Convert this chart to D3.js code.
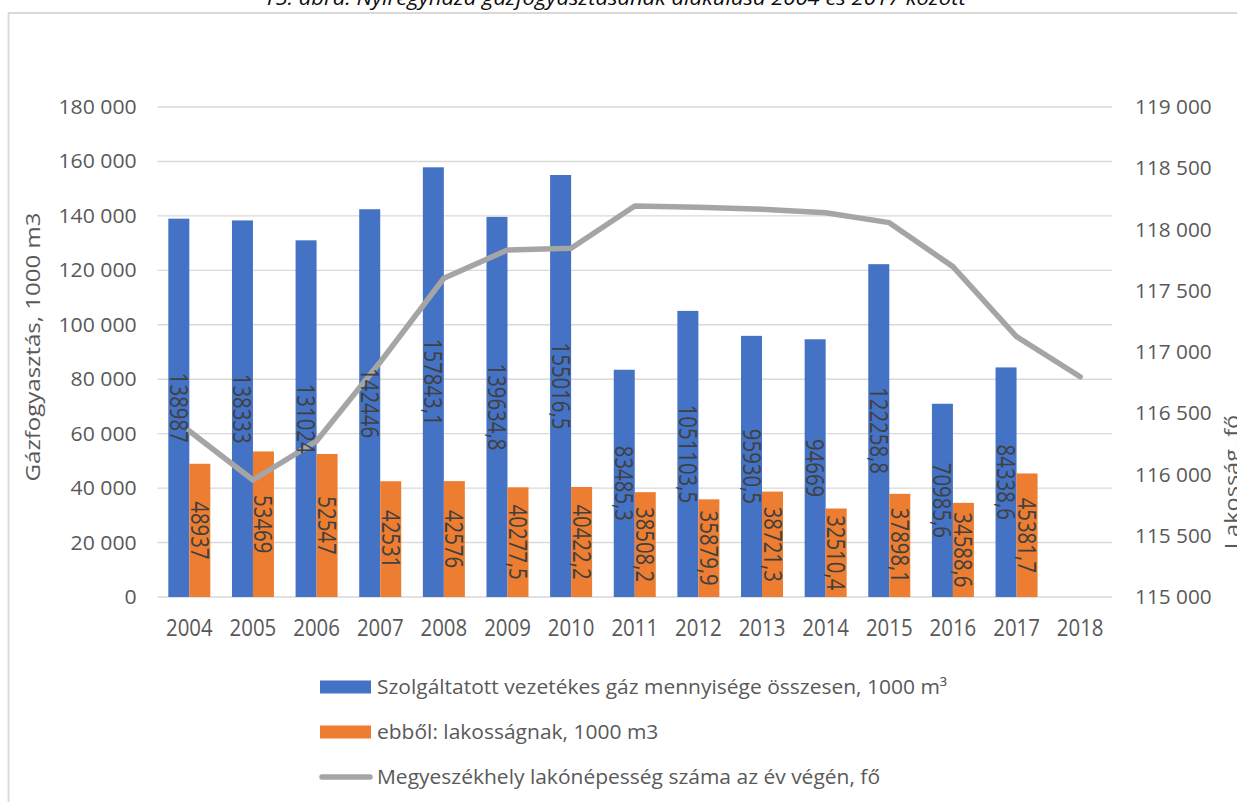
<!doctype html>
<html>
  <head>
    <meta charset="utf-8">
    <script src="https://cdn.jsdelivr.net/npm/d3@7"></script>
    <style>
      body { margin: 0; background: #fff; }
      svg { display: block; font-family: "Open Sans", sans-serif; }
      line.grid { stroke: #D9D9D9; stroke-width: 1.4; }
      text.tick { fill: #595959; }
      text.datalabel { fill: #404040; }
      path.population { fill: none; stroke: #A5A5A5; stroke-width: 5.5; stroke-linejoin: round; stroke-linecap: round; }
    </style>
  </head>
  <body>
    <svg id="chart" width="1237" height="802"></svg>
    <script>
      var years = [2004, 2005, 2006, 2007, 2008, 2009, 2010, 2011, 2012, 2013, 2014, 2015, 2016, 2017, 2018];
      // Szolgáltatott vezetékes gáz összesen, 1000 m3
      var totalGas = [138987, 138333, 131024, 142446, 157843.1, 139634.8, 155016.5, 83485.3, 105103.5, 95930.5, 94669, 122258.8, 70985.6, 84338.6, null];
      // ebből: lakosságnak, 1000 m3
      var householdGas = [48937, 53469, 52547, 42531, 42576, 40277.5, 40422.2, 38508.2, 35879.9, 38721.3, 32510.4, 37898.1, 34588.6, 45381.7, null];
      // lakónépesség az év végén, fő
      var population = [116355, 115955, 116273, 116918, 117602, 117833, 117847, 118192, 118181, 118165, 118137, 118056, 117697, 117125, 116798];
      // the source prints this one label differently from its bar
      var labelOverrides = { 2012: "1051103,5" };

      var seriesNames = [
        "Szolgáltatott vezetékes gáz mennyisége összesen, 1000 m³",
        "ebből: lakosságnak, 1000 m3",
        "Megyeszékhely lakónépesség száma az év végén, fő"
      ];
      var colors = ["#4472C4", "#ED7D31", "#A5A5A5"];

      var svg = d3.select("#chart");
      var plotLeft = 157.5, plotRight = 1112, plotTop = 107, plotBottom = 597;

      var huLocale = d3.formatLocale({ decimal: ",", thousands: "\u00a0", grouping: [3], currency: ["", ""] });
      var fmtTick = huLocale.format(",");
      var fmtLabel = v => String(v).replace(".", ",");

      var x = d3.scaleBand().domain(years).range([plotLeft, plotRight])
        .paddingInner(0.34).paddingOuter(0.17);
      var xSeries = d3.scaleBand().domain([0, 1]).range([0, x.bandwidth()]);
      var yGas = d3.scaleLinear().domain([0, 180000]).range([plotBottom, plotTop]);
      var yPop = d3.scaleLinear().domain([115000, 119000]).range([plotBottom, plotTop]);

      // text helper: place + rotate + stretch along the text direction
      function place(sel, px, py, rot, k) {
        sel.attr("transform", "translate(" + px + "," + py + ") rotate(" + (rot || 0) + ") scale(" + (k || 1) + ",1)");
      }
      function stretchFor(textSel, target) {
        return target / textSel.node().getComputedTextLength();
      }

      // frame
      svg.append("path")
        .attr("d", "M8.5,802 V13 H1237")
        .attr("fill", "none").attr("stroke", "#D9D9D9").attr("stroke-width", 1.8);

      // title (cut at the top in the source)
      var title = svg.append("text")
        .attr("font-style", "italic").attr("font-size", 20).attr("fill", "#0D0D0D")
        .attr("text-anchor", "middle")
        .text("15. ábra: Nyíregyháza gázfogyasztásának alakulása 2004 és 2017 között");
      place(title, 614.5, 5, 0, stretchFor(title, 703));

      // gridlines
      svg.append("g").selectAll("line")
        .data(yGas.ticks(10))
        .join("line")
          .attr("class", "grid")
          .attr("x1", plotLeft).attr("x2", plotRight)
          .attr("y1", d => yGas(d)).attr("y2", d => yGas(d));

      // left ticks
      var leftTicks = svg.append("g").selectAll("text")
        .data(yGas.ticks(10))
        .join("text")
          .attr("class", "tick").attr("font-size", 19.5)
          .attr("text-anchor", "end").attr("dy", "0.36em")
          .text(fmtTick);
      var kLeft = stretchFor(leftTicks.filter(d => d === 180000), 78.3);
      leftTicks.each(function(d) { place(d3.select(this), 136.7, yGas(d), 0, kLeft); });

      // right ticks
      var rightTicks = svg.append("g").selectAll("text")
        .data(yPop.ticks(8))
        .join("text")
          .attr("class", "tick").attr("font-size", 19.5)
          .attr("text-anchor", "start").attr("dy", "0.36em")
          .text(fmtTick);
      var kRight = stretchFor(rightTicks.filter(d => d === 119000), 76.7);
      rightTicks.each(function(d) { place(d3.select(this), 1135, yPop(d), 0, kRight); });

      // year labels
      var yearLabels = svg.append("g").selectAll("text")
        .data(years)
        .join("text")
          .attr("class", "tick").attr("font-size", 22.8)
          .attr("text-anchor", "middle")
          .text(d => d);
      var kYear = stretchFor(yearLabels.filter(d => d === 2004), 46.7);
      yearLabels.each(function(d) { place(d3.select(this), x(d) + x.bandwidth() / 2, 635.5, 0, kYear); });

      // axis titles
      var leftTitle = svg.append("text").attr("class", "tick").attr("font-size", 20)
        .attr("text-anchor", "middle").text("Gázfogyasztás, 1000 m3");
      place(leftTitle, 40, 347, -90, stretchFor(leftTitle, 269));
      var rightTitle = svg.append("text").attr("class", "tick").attr("font-size", 20)
        .attr("text-anchor", "middle").text("Lakosság, fő");
      place(rightTitle, 1239, 482, -90, stretchFor(rightTitle, 134.5));

      // bars
      var rows = years.map((yr, i) => ({ year: yr, values: [totalGas[i], householdGas[i]] }));
      var groups = svg.append("g").selectAll("g")
        .data(rows)
        .join("g")
          .attr("transform", d => "translate(" + x(d.year) + ",0)");
      groups.selectAll("rect")
        .data(d => d.values.map((v, s) => ({ v: v, s: s })).filter(e => e.v != null))
        .join("rect")
          .attr("x", e => xSeries(e.s))
          .attr("width", xSeries.bandwidth())
          .attr("y", e => yGas(e.v))
          .attr("height", e => yGas(0) - yGas(e.v))
          .attr("fill", e => colors[e.s]);

      // population line
      svg.append("path")
        .datum(years.map((yr, i) => [yr, population[i]]))
        .attr("class", "population")
        .attr("d", d3.line()
          .x(d => x(d[0]) + x.bandwidth() / 2)
          .y(d => yPop(d[1])));

      // data labels, rotated, centred in each bar
      var labels = [];
      rows.forEach(r => r.values.forEach((v, s) => {
        if (v == null) return;
        var txt = (s === 0 && labelOverrides[r.year]) ? labelOverrides[r.year] : fmtLabel(v);
        labels.push({ year: r.year, s: s, v: v, txt: txt });
      }));
      var dataLabels = svg.append("g").selectAll("text")
        .data(labels)
        .join("text")
          .attr("class", "datalabel").attr("font-size", 25)
          .attr("text-anchor", "middle").attr("dy", "0.36em")
          .text(d => d.txt);
      var kData = stretchFor(dataLabels.filter(d => d.txt === "48937"), 58.3);
      dataLabels.each(function(d) {
        var cx = x(d.year) + xSeries(d.s) + xSeries.bandwidth() / 2;
        var cy = (yGas(d.v) + yGas(0)) / 2;
        place(d3.select(this), cx, cy, 90, kData);
      });

      // legend
      var legendY = [687, 732, 777];
      var legend = svg.append("g").selectAll("g")
        .data(seriesNames)
        .join("g")
          .attr("transform", (d, i) => "translate(0," + legendY[i] + ")");
      legend.filter((d, i) => i < 2).append("rect")
        .attr("x", 320).attr("y", -6.5).attr("width", 51).attr("height", 13)
        .attr("fill", (d, i) => colors[i]);
      legend.filter((d, i) => i === 2).append("line")
        .attr("x1", 322).attr("x2", 370).attr("y1", 0).attr("y2", 0)
        .attr("stroke", colors[2]).attr("stroke-width", 5.5).attr("stroke-linecap", "round");
      var legendText = legend.append("text")
        .attr("class", "tick").attr("font-size", 19.2).attr("dy", "0.36em")
        .text(d => d);
      var kLegend = stretchFor(legendText.filter((d, i) => i === 0), 570);
      legendText.each(function() { place(d3.select(this), 377, 0, 0, kLegend); });
    </script>
  </body>
</html>
